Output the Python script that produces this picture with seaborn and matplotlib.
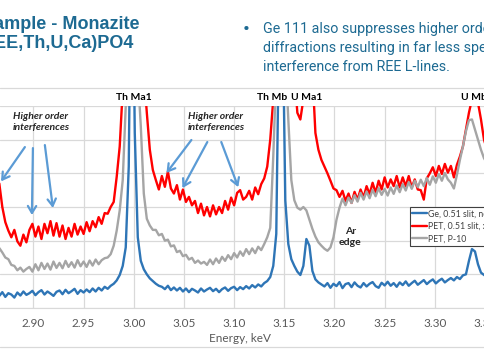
"""
Monazite spectrum comparison: Ge vs PET crystals around the Th/U M-lines.
"""

import numpy as np
import pandas as pd
import matplotlib
matplotlib.use('Agg')
import matplotlib.pyplot as plt
from matplotlib.lines import Line2D
import seaborn as sns

# ==============================================================================
# DATA
# ==============================================================================

ENERGY_KEV = [
    2.866, 2.869, 2.872, 2.875, 2.878, 2.881, 2.884, 2.887, 2.890, 2.893,
    2.896, 2.899, 2.902, 2.905, 2.908, 2.911, 2.914, 2.917, 2.920, 2.923,
    2.926, 2.929, 2.932, 2.935, 2.938, 2.941, 2.944, 2.947, 2.950, 2.953,
    2.956, 2.959, 2.962, 2.965, 2.968, 2.971, 2.974, 2.977, 2.980, 2.983,
    2.986, 2.989, 2.992, 2.995, 2.998, 3.001, 3.004, 3.007, 3.010, 3.013,
    3.016, 3.019, 3.022, 3.025, 3.028, 3.031, 3.034, 3.037, 3.040, 3.043,
    3.046, 3.049, 3.052, 3.055, 3.058, 3.061, 3.064, 3.067, 3.070, 3.073,
    3.076, 3.079, 3.082, 3.085, 3.088, 3.091, 3.094, 3.097, 3.100, 3.103,
    3.106, 3.109, 3.112, 3.115, 3.118, 3.121, 3.124, 3.127, 3.130, 3.133,
    3.136, 3.139, 3.142, 3.145, 3.148, 3.151, 3.154, 3.157, 3.160, 3.163,
    3.166, 3.169, 3.172, 3.175, 3.178, 3.181, 3.184, 3.187, 3.190, 3.193,
    3.196, 3.199, 3.202, 3.205, 3.208, 3.211, 3.214, 3.217, 3.220, 3.223,
    3.226, 3.229, 3.232, 3.235, 3.238, 3.241, 3.244, 3.247, 3.250, 3.253,
    3.256, 3.259, 3.262, 3.265, 3.268, 3.271, 3.274, 3.277, 3.280, 3.283,
    3.286, 3.289, 3.292, 3.295, 3.298, 3.301, 3.304, 3.307, 3.310, 3.313,
    3.316, 3.319, 3.322, 3.325, 3.328, 3.331, 3.334, 3.337, 3.340, 3.343,
    3.346, 3.349, 3.352,
]

GE_SLIT = [
    36, 47, 33, 44, 40, 31, 46, 37, 49, 39,
    44, 51, 38, 47, 53, 40, 49, 43, 36, 48,
    52, 41, 54, 44, 50, 57, 42, 53, 46, 55,
    47, 58, 49, 60, 52, 63, 57, 66, 72, 82,
    98, 125, 180, 420, 1300, 520, 210, 140, 115, 100,
    88, 80, 72, 66, 63, 56, 66, 53, 61, 52,
    60, 49, 58, 47, 57, 52, 46, 58, 49, 55,
    60, 50, 57, 47, 56, 61, 51, 59, 63, 53,
    62, 56, 65, 58, 68, 61, 70, 64, 74, 80,
    92, 125, 220, 900, 950, 320, 190, 145, 125, 108,
    98, 125, 205, 185, 110, 85, 76, 70, 64, 74,
    60, 72, 65, 77, 59, 71, 74, 62, 76, 66,
    61, 74, 64, 72, 77, 65, 60, 75, 67, 78,
    66, 74, 63, 76, 68, 79, 66, 74, 81, 69,
    76, 83, 71, 79, 85, 73, 81, 87, 76, 83,
    89, 82, 92, 86, 97, 100, 140, 175, 168, 130,
    105, 98, 92,
]

PET_SLIT = [
    370, 300, 255, 230, 210, 232, 198, 185, 218, 195,
    232, 250, 212, 242, 205, 250, 222, 258, 215, 252,
    212, 245, 205, 238, 212, 250, 218, 242, 220, 255,
    228, 258, 240, 270, 250, 282, 280, 300, 315, 390,
    480, 650, 900, 1200, 1400, 1400, 1200, 900, 700, 580,
    470, 410, 380, 352, 392, 360, 405, 355, 340, 365,
    322, 352, 315, 330, 305, 318, 282, 310, 275, 300,
    272, 305, 278, 300, 282, 318, 292, 328, 305, 342,
    350, 322, 330, 348, 322, 358, 338, 368, 385, 420,
    500, 620, 900, 1300, 1400, 1200, 1000, 850, 700, 580,
    560, 620, 800, 900, 700, 520, 470, 440, 420, 400,
    378, 355, 350, 330, 348, 318, 340, 312, 345, 322,
    352, 328, 362, 338, 372, 342, 378, 352, 388, 358,
    382, 362, 392, 358, 388, 362, 392, 358, 382, 352,
    350, 322, 385, 400, 418, 392, 422, 398, 428, 402,
    422, 388, 425, 450, 480, 530, 580, 620, 640, 610,
    560, 500, 470,
]

PET_P10 = [
    178, 165, 150, 145, 128, 125, 112, 120, 108, 116,
    122, 108, 130, 112, 134, 116, 132, 114, 138, 119,
    134, 118, 140, 122, 136, 120, 142, 124, 138, 122,
    141, 126, 144, 130, 142, 148, 150, 160, 185, 230,
    290, 380, 600, 900, 1100, 950, 700, 540, 340, 265,
    245, 232, 232, 216, 220, 200, 203, 183, 186, 166,
    170, 154, 158, 144, 149, 134, 141, 132, 137, 128,
    144, 130, 147, 134, 152, 140, 157, 145, 163, 150,
    168, 155, 175, 160, 177, 163, 182, 172, 190, 210,
    238, 450, 700, 900, 900, 750, 560, 380, 320, 298,
    292, 300, 290, 262, 235, 212, 195, 185, 176, 170,
    180, 210, 262, 298, 325, 305, 328, 312, 335, 316,
    342, 322, 346, 326, 351, 332, 356, 336, 354, 334,
    358, 339, 364, 344, 368, 349, 374, 354, 378, 359,
    381, 362, 386, 366, 391, 372, 398, 378, 401, 382,
    372, 355, 395, 440, 480, 525, 558, 560, 530, 500,
    470, 445, 430,
]

SERIES_LABELS = ['Ge, 0.51 slit, no P-10', 'PET, 0.51 slit, xenon', 'PET, P-10']
SERIES_COLORS = ['#2e75b6', '#ff0000', '#a5a5a5']
X_TICKS = [2.90, 2.95, 3.00, 3.05, 3.10, 3.15, 3.20, 3.25, 3.30, 3.35]

PEAK_LABELS = ['Th Ma1', 'Th Mb', 'U Ma1', 'U Mb']
PEAK_ENERGY = [2.9998, 3.1379, 3.1727, 3.3390]

TEXT_BLUE = '#1d6a92'
GRID_GREY = '#d9d9d9'

# ==============================================================================
# PLOT
# ==============================================================================

def build_frame():
    frames = []
    for label, vals in zip(SERIES_LABELS, [GE_SLIT, PET_SLIT, PET_P10]):
        frames.append(pd.DataFrame({'energy': ENERGY_KEV, 'counts': vals, 'series': label}))
    return pd.concat(frames, ignore_index=True)


def main():
    sns.set_style('white')
    plt.rcParams['font.family'] = ['Lato', 'DejaVu Sans']

    fig = plt.figure(figsize=(4.85, 3.6), dpi=100)
    ax = fig.add_axes([0, 52 / 360, 1, 202 / 360])

    df = build_frame()
    sns.lineplot(data=df, x='energy', y='counts', hue='series',
                 hue_order=SERIES_LABELS, palette=SERIES_COLORS,
                 estimator=None, linewidth=1.7, ax=ax)

    ax.set_xlim(2.8667, 3.3485)
    ax.set_ylim(0, 600)
    ax.set_xticks(X_TICKS)
    ax.set_xticklabels([f'{t:.2f}' for t in X_TICKS])
    ax.set_yticks(range(0, 601, 100))
    ax.set_yticklabels([])
    ax.grid(True, color=GRID_GREY, linewidth=0.9)
    ax.tick_params(axis='x', length=0, pad=7, labelsize=8.5, labelcolor='#595959')
    ax.tick_params(axis='y', length=0)
    for side in ['top', 'left', 'right']:
        ax.spines[side].set_visible(False)
    ax.spines['bottom'].set_color(GRID_GREY)
    ax.set_ylabel('')
    ax.set_xlabel('Energy, keV', fontsize=8.5, color='#595959')
    ax.xaxis.set_label_coords(240 / 485, -0.125)

    # legend, partly cut by the right edge like the slide crop
    handles, labels = ax.get_legend_handles_labels()
    leg = ax.legend(handles, labels, loc='upper left', bbox_to_anchor=(0.845, 0.502),
                    fontsize=6.3, frameon=True, fancybox=False, framealpha=1,
                    edgecolor='#404040', handlelength=1.7, handletextpad=0.1,
                    borderpad=0.3, labelspacing=0.4, borderaxespad=0)
    leg.get_frame().set_linewidth(0.8)
    for t in leg.get_texts():
        t.set_color('#404040')

    # peak labels above the plot area
    for name, e in zip(PEAK_LABELS, PEAK_ENERGY):
        ax.text(e, 624, name, ha='center', va='center', fontsize=7.5,
                fontweight='bold', color='black', clip_on=False)

    # higher order annotations
    for e in [2.9074, 3.0818]:
        ax.text(e, 553, 'Higher order\ninterferences', ha='center', va='center',
                fontsize=7.5, fontweight='bold', style='italic', linespacing=1.25)
    arrows = [((2.8915, 478), (2.8677, 376)), ((2.8995, 475), (2.8985, 276)),
              ((2.9114, 484), (2.9194, 297)), ((3.0574, 499), (3.0326, 401)),
              ((3.0733, 493), (3.0485, 356)), ((3.0872, 493), (3.1041, 359))]
    for tail, head in arrows:
        ax.annotate('', xy=head, xytext=tail, annotation_clip=False,
                    arrowprops=dict(arrowstyle='->,head_length=0.5,head_width=0.3',
                                    color='#5b9bd5', lw=1.6, shrinkA=0, shrinkB=0))

    ax.text(3.2159, 211, 'Ar\nedge', ha='center', va='center', fontsize=7.5,
            fontweight='bold', linespacing=1.2)

    # slide header (cropped on both sides)
    fig.text(140 / 485, 1 - 29 / 360, 'Sample - Monazite', ha='right', va='baseline',
             fontsize=13, fontweight='bold', color=TEXT_BLUE, family='Liberation Sans')
    fig.text(133 / 485, 1 - 48 / 360, '(REE,Th,U,Ca)PO4', ha='right', va='baseline',
             fontsize=13, fontweight='bold', color=TEXT_BLUE, family='Liberation Sans')

    fig.text(243 / 485, 1 - 35 / 360, '\u2022', ha='left', va='baseline',
             fontsize=15, color=TEXT_BLUE, family='Roboto')
    bullet_lines = ['Ge 111 also suppresses higher order',
                    'diffractions resulting in far less spectral',
                    'interference from REE L-lines.']
    for k, line in enumerate(bullet_lines):
        fig.text(263 / 485, 1 - (33 + 19 * k) / 360, line, ha='left', va='baseline',
                 fontsize=10.3, color=TEXT_BLUE, family='Roboto')

    for y in [88, 347]:
        fig.add_artist(Line2D([0, 1], [1 - y / 360, 1 - y / 360],
                              transform=fig.transFigure, color=GRID_GREY, lw=0.9))

    fig.savefig('out.png', dpi=100)


if __name__ == '__main__':
    main()
